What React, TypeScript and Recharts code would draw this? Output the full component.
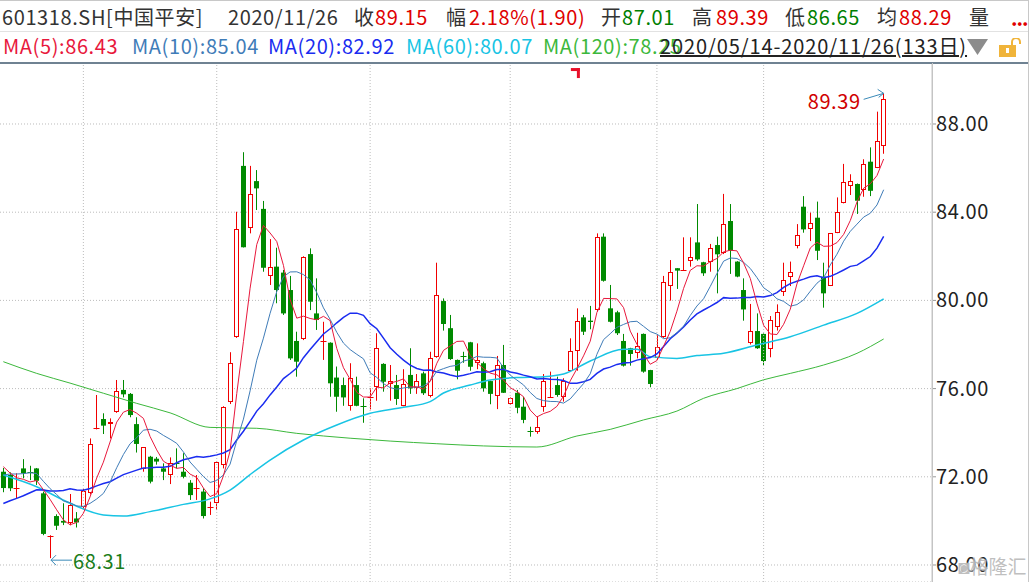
import { ComposedChart, Bar, Line, XAxis, YAxis, CartesianGrid, ReferenceLine, ReferenceDot } from "recharts"

// trading days shown (2020/05/14 - 2020/11/26, 133 sessions)
const tradingDays: [string, number[]][] = [
  ["05", [14, 15, 18, 19, 20, 21, 22, 25, 26, 27, 28, 29]],
  ["06", [1, 2, 3, 4, 5, 8, 9, 10, 11, 12, 15, 16, 17, 18, 19, 22, 23, 24, 29, 30]],
  ["07", [1, 2, 3, 6, 7, 8, 9, 10, 13, 14, 15, 16, 17, 20, 21, 22, 23, 24, 27, 28, 29, 30, 31]],
  ["08", [3, 4, 5, 6, 7, 10, 11, 12, 13, 14, 17, 18, 19, 20, 21, 24, 25, 26, 27, 28, 31]],
  ["09", [1, 2, 3, 4, 7, 8, 9, 10, 11, 14, 15, 16, 17, 18, 21, 22, 23, 24, 25, 28, 29, 30]],
  ["10", [9, 12, 13, 14, 15, 16, 19, 20, 21, 22, 23, 26, 27, 28, 29, 30]],
  ["11", [2, 3, 4, 5, 6, 9, 10, 11, 12, 13, 16, 17, 18, 19, 20, 23, 24, 25, 26]],
]
const dates = tradingDays.flatMap(([m, days]) => days.map((d) => `${m}/${String(d).padStart(2, "0")}`))

const opens = [
  72.23, 72.08, 71.5, 72.38, 72.22, 72.38, 71.25, 69.25, 70.22, 70.0, 69.92, 70.11, 70.64, 71.28, 74.18, 74.62, 74.39, 74.93, 75.94, 75.76,
  74.39, 72.34, 72.91, 72.82, 72.38, 72.08, 72.62, 72.23, 71.73, 71.47, 71.33, 70.63, 70.83, 72.54, 75.37, 78.33, 86.1, 83.27, 85.41, 84.15,
  81.11, 81.53, 81.26, 80.47, 78.16, 78.24, 82.1, 79.41, 78.15, 78.08, 76.5, 76.16, 75.22, 76.16, 75.19, 75.62, 76.06, 77.12, 76.21, 76.16,
  75.22, 76.62, 76.01, 76.69, 75.68, 77.42, 79.97, 78.74, 77.3, 77.46, 78.1, 77.17, 77.15, 76.34, 75.68, 77.07, 75.28, 75.81, 75.18, 74.06,
  74.05, 75.18, 75.62, 76.16, 75.63, 76.81, 77.72, 79.23, 79.08, 79.56, 82.89, 79.64, 79.46, 78.16, 77.83, 77.6, 78.48, 76.84, 77.37, 78.33,
  80.67, 81.46, 81.37, 81.8, 82.63, 81.73, 81.76, 82.51, 82.13, 83.6, 81.76, 80.47, 78.05, 78.61, 78.48, 77.78, 78.78, 80.37, 81.07, 82.48,
  84.25, 83.22, 83.75, 81.07, 80.67, 83.07, 84.4, 85.2, 85.28, 85.01, 86.29, 86.0, 87.01,
]
const highs = [
  72.4, 72.2, 72.16, 72.8, 72.5, 72.4, 71.33, 69.35, 70.3, 70.8, 71.22, 70.4, 71.45, 73.74, 75.71, 74.88, 74.65, 76.39, 76.39, 75.8,
  74.7, 73.35, 72.95, 72.9, 72.61, 72.88, 73.29, 73.07, 71.85, 72.08, 71.48, 70.87, 72.7, 75.2, 77.65, 84.02, 86.72, 86.1, 85.91, 84.51,
  82.78, 82.39, 81.38, 81.11, 78.58, 82.0, 82.36, 81.0, 79.03, 78.1, 77.0, 76.5, 77.15, 76.54, 75.56, 76.01, 78.51, 77.15, 77.07, 76.62,
  76.88, 77.83, 76.66, 76.77, 77.67, 81.71, 80.09, 79.34, 77.32, 77.67, 78.12, 78.05, 77.22, 76.36, 77.48, 77.98, 75.6, 75.94, 75.63, 74.27,
  74.73, 76.66, 76.77, 76.54, 76.47, 78.28, 79.64, 79.34, 79.75, 83.04, 83.04, 80.7, 79.53, 78.48, 77.85, 78.53, 78.5, 76.85, 78.43, 81.11,
  81.83, 81.46, 82.86, 82.86, 84.37, 81.75, 82.56, 82.89, 84.83, 84.37, 81.78, 81.0, 79.84, 79.41, 78.5, 79.29, 79.82, 81.71, 81.76, 83.46,
  84.73, 83.98, 84.48, 81.71, 83.05, 84.67, 86.19, 85.72, 85.3, 86.4, 86.94, 88.56, 89.39,
]
const lows = [
  71.3, 71.35, 71.0, 71.93, 71.85, 71.63, 69.35, 68.31, 69.59, 69.81, 69.8, 69.7, 70.55, 71.2, 74.15, 73.94, 73.74, 74.9, 75.6, 74.7,
  73.1, 72.23, 71.7, 72.55, 71.85, 71.67, 72.38, 71.93, 70.95, 70.95, 70.11, 70.27, 70.49, 72.38, 75.3, 78.3, 82.4, 83.04, 84.1, 81.3,
  80.7, 79.87, 79.34, 77.3, 76.54, 78.2, 79.56, 78.66, 77.3, 75.63, 74.95, 75.22, 75.0, 75.2, 74.45, 75.06, 75.45, 75.86, 75.45, 75.26,
  75.2, 75.76, 75.76, 75.71, 75.6, 77.4, 78.63, 77.3, 76.42, 77.17, 76.81, 76.88, 75.86, 75.29, 75.07, 75.8, 75.26, 74.88, 74.43, 73.82,
  73.95, 74.95, 75.6, 75.63, 75.41, 76.8, 76.81, 78.43, 78.69, 79.49, 80.85, 79.0, 78.43, 77.0, 77.04, 77.37, 76.72, 76.06, 77.3, 78.3,
  79.99, 80.52, 81.35, 81.53, 81.8, 81.11, 81.3, 80.32, 82.1, 81.2, 81.05, 79.08, 78.0, 77.8, 77.07, 77.42, 78.63, 80.2, 80.65, 82.36,
  83.07, 82.69, 81.83, 79.67, 80.65, 83.05, 84.4, 84.78, 83.92, 84.7, 84.73, 86.0, 86.65,
]
const closes = [
  71.49, 71.48, 71.5, 72.16, 72.2, 71.82, 69.41, 69.3, 69.78, 69.92, 70.72, 69.93, 71.37, 73.49, 74.2, 74.32, 74.5, 75.89, 75.74, 74.8,
  73.49, 73.34, 71.78, 72.69, 72.23, 72.61, 72.6, 72.0, 71.17, 71.48, 70.22, 70.64, 72.69, 75.18, 77.15, 83.22, 82.41, 84.81, 85.08, 81.48,
  81.5, 80.47, 79.41, 77.37, 77.22, 81.96, 79.94, 79.11, 78.16, 76.24, 75.63, 75.6, 76.46, 75.22, 75.18, 75.63, 77.83, 76.31, 76.34, 75.53,
  76.19, 76.01, 76.34, 75.79, 77.37, 80.24, 78.93, 77.34, 76.81, 77.45, 76.99, 77.3, 76.01, 75.76, 77.07, 75.81, 75.56, 75.13, 74.58, 74.05,
  74.24, 76.34, 75.63, 75.71, 76.36, 77.71, 79.07, 78.58, 79.02, 82.89, 80.89, 79.03, 78.51, 77.04, 77.57, 77.93, 76.77, 76.21, 77.87, 80.82,
  81.3, 81.35, 81.38, 81.96, 81.86, 81.23, 82.36, 82.09, 83.45, 82.25, 81.08, 79.59, 78.61, 77.83, 77.25, 79.11, 79.46, 80.93, 81.27, 82.97,
  83.22, 83.5, 82.25, 80.32, 83.04, 83.99, 85.36, 85.41, 84.52, 86.17, 84.97, 87.25, 89.15,
]
// sessions before 05/14, only used to seed MA5/10/20
const earlierCloses = [69.0, 69.3, 69.8, 69.5, 69.2, 69.6, 70.1, 69.9, 69.4, 69.2, 71.0, 71.5, 72.0, 71.8, 72.2, 72.9, 72.6, 72.5, 72.8]

// MA60 / MA120 (session index -> value)
const ma60Days = [0, 5, 10, 15, 18, 22, 27, 31, 34, 37, 40, 45, 50, 55, 60, 64, 66, 70, 73, 77, 81, 84, 88, 93, 95, 97, 101, 104, 108, 113, 118, 123, 128, 132]
const ma60Vals = [72.08, 71.55, 70.8, 70.27, 70.22, 70.42, 70.75, 71.0, 71.4, 72.1, 72.76, 73.67, 74.35, 74.88, 75.15, 75.41, 75.8, 76.16, 76.39, 76.5, 76.54, 76.66, 77.25, 77.78, 77.78, 77.45, 77.37, 77.5, 77.6, 77.98, 78.35, 78.88, 79.41, 80.07]
const ma120Days = [0, 5, 10, 15, 20, 25, 31, 38, 44, 52, 58, 65, 72, 80, 86, 91, 96, 101, 105, 110, 114, 118, 123, 128, 132]
const ma120Vals = [77.22, 76.69, 76.25, 75.79, 75.33, 74.9, 74.24, 74.2, 73.97, 73.75, 73.62, 73.5, 73.4, 73.35, 73.85, 74.15, 74.58, 74.98, 75.56, 76.0, 76.4, 76.69, 77.07, 77.6, 78.25]

const yTicks = [68, 72, 76, 80, 84, 88]
const monthStarts = ["06/01", "07/01", "08/03", "09/01", "10/09", "11/02"]

const RED = "#f00000"
const GREEN = "#008a00"
const FONT = "'Noto Sans CJK SC', 'Noto Sans', sans-serif"

const allCloses = [...earlierCloses, ...closes]
const movingAvg = (n: number, i: number) => {
  const end = i + earlierCloses.length
  let s = 0
  for (let k = end - n + 1; k <= end; k++) s += allCloses[k]
  return +(s / n).toFixed(3)
}

const data = dates.map((date, i) => ({
  date,
  open: opens[i],
  high: highs[i],
  low: lows[i],
  close: closes[i],
  range: [lows[i], highs[i]],
  ma5: movingAvg(5, i),
  ma10: movingAvg(10, i),
  ma20: movingAvg(20, i),
  ma60: ma60Days.includes(i) ? ma60Vals[ma60Days.indexOf(i)] : null,
  ma120: ma120Days.includes(i) ? ma120Vals[ma120Days.indexOf(i)] : null,
}))

const Candle = (props: any) => {
  const { x, y, width, height, payload } = props
  const { open, close, high, low } = payload
  const top = Math.min(y, y + height)
  const h = Math.abs(height)
  const py = (p: number) => (high === low ? top : top + ((high - p) / (high - low)) * h)
  const up = close >= open
  const color = up ? RED : GREEN
  const cx = Math.floor(x + width / 2) + 0.5
  const bTop = py(Math.max(open, close))
  const bBot = py(Math.min(open, close))
  const hy = py(high)
  const ly = py(low)
  if (bBot - bTop < 1.2) {
    return (
      <g>
        <line x1={cx} x2={cx} y1={hy} y2={ly} stroke={color} />
        <line x1={cx - 3} x2={cx + 3} y1={Math.round(bTop) + 0.5} y2={Math.round(bTop) + 0.5} stroke={color} />
      </g>
    )
  }
  if (up) {
    const t = Math.round(bTop) + 0.5
    const b = Math.round(bBot) - 0.5
    return (
      <g>
        <line x1={cx} x2={cx} y1={hy} y2={t} stroke={color} />
        <line x1={cx} x2={cx} y1={b} y2={ly} stroke={color} />
        <rect x={cx - 2} y={t} width={4} height={Math.max(b - t, 1)} fill="#fff" stroke={color} />
      </g>
    )
  }
  return (
    <g>
      <line x1={cx} x2={cx} y1={hy} y2={ly} stroke={color} />
      <rect x={cx - 2.5} y={bTop} width={5} height={bBot - bTop} fill={color} />
    </g>
  )
}

const HighNote = (p: any) => (
  <g>
    <line x1={p.cx - 20} y1={p.cy + 6} x2={p.cx} y2={p.cy} stroke="#3a8ab8" />
    <polyline points={`${p.cx - 6},${p.cy - 4} ${p.cx},${p.cy} ${p.cx - 5},${p.cy + 4}`} fill="none" stroke="#3a8ab8" />
    <text x={p.cx - 23} y={p.cy + 7} textAnchor="end" dominantBaseline="central" fontSize={20} fill="#d00000" fontFamily={FONT} letterSpacing={0.6}>
      {highs[132].toFixed(2)}
    </text>
  </g>
)

const LowNote = (p: any) => (
  <g>
    <line x1={p.cx + 1} y1={p.cy + 2} x2={p.cx + 22} y2={p.cy + 2} stroke="#3a8ab8" />
    <polyline points={`${p.cx + 6},${p.cy - 3} ${p.cx + 1},${p.cy + 2} ${p.cx + 6},${p.cy + 7}`} fill="none" stroke="#3a8ab8" />
    <text x={p.cx + 23} y={p.cy + 2} dominantBaseline="central" fontSize={20} fill="#1a7d1a" fontFamily={FONT} letterSpacing={0.6}>
      {lows[7].toFixed(2)}
    </text>
  </g>
)

const EventMark = (p: any) => (
  <g fill="#e8102a">
    <rect x={p.cx - 6} y={p.cy - 5} width={9} height={3} />
    <rect x={p.cx} y={p.cy - 5} width={3} height={10} />
  </g>
)

const YTick = (p: any) => (
  <text x={p.x - 2} y={p.y} dy="0.35em" fontSize={20} fill="#222" fontFamily={FONT} letterSpacing={0.6}>
    {Number(p.payload.value).toFixed(2)}
  </text>
)

type Seg = [string, number, string]
const row1: Seg[] = [
  ["601318.SH[中国平安]", 2, "#333"],
  ["2020/11/26", 228, "#333"],
  ["收", 354, "#333"],
  ["89.15", 375, "#e00000"],
  ["幅", 446, "#333"],
  ["2.18%(1.90)", 469, "#e00000"],
  ["开", 601, "#333"],
  ["87.01", 622, "#008000"],
  ["高", 692, "#333"],
  ["89.39", 716, "#e00000"],
  ["低", 785, "#333"],
  ["86.65", 807, "#008000"],
  ["均", 877, "#333"],
  ["88.29", 899, "#e00000"],
  ["量", 969, "#333"],
]
const row2: Seg[] = [
  ["MA(5):86.43", 3, "#e8183c"],
  ["MA(10):85.04", 132, "#3f7cb8"],
  ["MA(20):82.92", 268, "#1a2cf0"],
  ["MA(60):80.07", 406, "#18c4e4"],
  ["MA(120):78.25", 543, "#3cb83c"],
]

export default function App() {
  const seg = (top: number) => ({ position: "absolute" as const, top, fontSize: 20, lineHeight: "28px", whiteSpace: "nowrap" as const, letterSpacing: 0.6 })
  return (
    <div style={{ position: "absolute", left: 0, top: 0, width: 1031, height: 582, background: "#fff", overflow: "hidden", fontFamily: FONT }}>
      <div style={{ position: "absolute", left: 0, top: 0, width: 1028, height: 1, background: "#c8c8c8" }} />
      <div style={{ position: "absolute", left: 0, top: 31, width: 1028, height: 1, background: "#e2e2e2" }} />
      <div style={{ position: "absolute", left: 1028, top: 0, width: 1, height: 582, background: "#c8c8c8" }} />
      {row1.map(([t, x, c]) => (
        <span key={t + x} style={{ ...seg(3), left: x, color: c }}>
          {t}
        </span>
      ))}
      <span style={{ position: "absolute", left: 1011, top: 4, fontSize: 20, lineHeight: "28px", color: "#e00000", letterSpacing: -1, fontWeight: 700 }}>
        ...
      </span>
      {row2.map(([t, x, c]) => (
        <span key={t + x} style={{ ...seg(32), left: x, color: c }}>
          {t}
        </span>
      ))}
      <span style={{ ...seg(32), left: 660, color: "#222", letterSpacing: 0.9, textDecoration: "underline" }}>
        2020/05/14-2020/11/26(133日)
      </span>
      <svg style={{ position: "absolute", left: 966, top: 38 }} width={60} height={22}>
        <polygon points="1,1 22,1 11.5,17" fill="#8c8c8c" />
        <rect x={33} y={7} width={17} height={12} fill="#f0b43a" />
        <rect x={40} y={10} width={3} height={5} fill="#fff" />
        <path d="M46,7 V4 a4,4 0 0 1 8,0 V6" fill="none" stroke="#f0b43a" strokeWidth={2} />
      </svg>
      <div style={{ position: "absolute", left: 0, top: 0 }}>
        <ComposedChart width={1031} height={582} data={data} margin={{ top: 63, right: 0, bottom: 0, left: 0 }}>
          <CartesianGrid horizontal vertical={false} stroke="#bcbcbc" strokeDasharray="1 2" />
          <XAxis dataKey="date" hide padding={{ left: 0, right: 45 }} />
          <YAxis
            orientation="right"
            width={99}
            domain={[67.229, 90.766]}
            ticks={yTicks}
            allowDataOverflow
            axisLine={{ stroke: "#c4c4c4" }}
            tickLine={{ stroke: "#999" }}
            tickSize={4}
            tickMargin={2}
            tick={<YTick />}
          />
          {monthStarts.map((m) => (
            <ReferenceLine key={m} x={m} stroke="#bcbcbc" strokeDasharray="1 2" />
          ))}
          <Line dataKey="ma120" type="monotone" stroke="#3cb83c" dot={false} connectNulls isAnimationActive={false} />
          <Line dataKey="ma60" type="monotone" stroke="#18c4e4" dot={false} connectNulls isAnimationActive={false} strokeWidth={1.5} />
          <Line dataKey="ma20" type="linear" stroke="#1a2cf0" dot={false} isAnimationActive={false} strokeWidth={1.5} />
          <Line dataKey="ma10" type="linear" stroke="#3f7cb8" dot={false} isAnimationActive={false} />
          <Line dataKey="ma5" type="linear" stroke="#e8183c" dot={false} isAnimationActive={false} />
          <Bar dataKey="range" barSize={5} shape={<Candle />} isAnimationActive={false} />
          <ReferenceDot x={dates[132]} y={highs[132]} r={0} shape={<HighNote />} ifOverflow="visible" />
          <ReferenceDot x={dates[7]} y={lows[7]} r={0} shape={<LowNote />} ifOverflow="visible" />
          <ReferenceDot x={dates[86]} y={90.31} r={0} shape={<EventMark />} ifOverflow="visible" />
        </ComposedChart>
      </div>
      <div style={{ position: "absolute", left: 0, top: 62, width: 1028, height: 2, background: "#6f8292" }} />
      <div style={{ position: "absolute", left: 932, top: 63, width: 1, height: 519, background: "#c4c4c4" }} />
      <span style={{ position: "absolute", left: 958, top: 553, fontSize: 19, lineHeight: "26px", color: "rgba(170,170,170,0.75)", textShadow: "0 0 2px #fff" }}>
        ◙格隆汇
      </span>
    </div>
  )
}
